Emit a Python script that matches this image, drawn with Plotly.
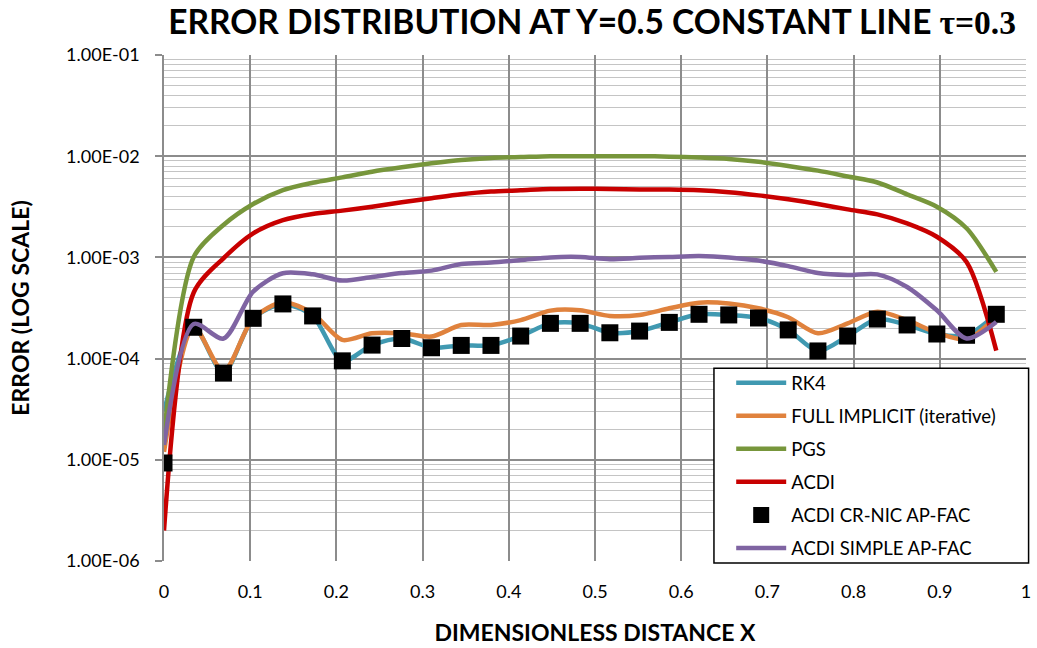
import numpy as np
import plotly.graph_objects as go

# Grid positions along the line (29 nodes)
x_nodes = [i / 29 for i in range(29)]

rk4 = [3.0e-5, 2.04e-4, 7.2e-5, 2.5e-4, 3.45e-4, 2.64e-4, 9.5e-5, 1.36e-4, 1.58e-4, 1.28e-4,
       1.35e-4, 1.35e-4, 1.67e-4, 2.23e-4, 2.23e-4, 1.80e-4, 1.87e-4, 2.28e-4, 2.74e-4, 2.70e-4,
       2.52e-4, 1.92e-4, 1.19e-4, 1.67e-4, 2.46e-4, 2.15e-4, 1.75e-4, 1.70e-4, 2.74e-4]

full_implicit = [1.2e-5, 2.04e-4, 7.5e-5, 2.5e-4, 3.6e-4, 2.8e-4, 1.53e-4, 1.78e-4, 1.78e-4, 1.65e-4,
                 2.15e-4, 2.15e-4, 2.4e-4, 2.98e-4, 3.0e-4, 2.64e-4, 2.7e-4, 3.14e-4, 3.57e-4, 3.5e-4,
                 3.14e-4, 2.56e-4, 1.78e-4, 2.23e-4, 2.91e-4, 2.4e-4, 1.8e-4, 1.55e-4, 2.6e-4]

pgs = [1.8e-5, 1.01e-3, 2.09e-3, 3.37e-3, 4.63e-3, 5.47e-3, 6.18e-3, 7.03e-3, 7.77e-3, 8.5e-3,
       9.16e-3, 9.6e-3, 9.8e-3, 1.0e-2, 1.0e-2, 1.0e-2, 1.0e-2, 9.9e-3, 9.7e-3, 9.4e-3,
       8.8e-3, 8.0e-3, 7.2e-3, 6.3e-3, 5.5e-3, 4.2e-3, 3.17e-3, 1.94e-3, 7.2e-4]

acdi = [2.0e-6, 4.5e-4, 9.8e-4, 1.73e-3, 2.34e-3, 2.69e-3, 2.9e-3, 3.17e-3, 3.5e-3, 3.84e-3,
        4.2e-3, 4.47e-3, 4.6e-3, 4.74e-3, 4.77e-3, 4.74e-3, 4.7e-3, 4.68e-3, 4.6e-3, 4.4e-3,
        4.1e-3, 3.75e-3, 3.37e-3, 2.98e-3, 2.66e-3, 2.17e-3, 1.6e-3, 9.0e-4, 1.2e-4]

crnic_apfac = [9.3e-6, 2.04e-4, 7.2e-5, 2.5e-4, 3.47e-4, 2.64e-4, 9.5e-5, 1.36e-4, 1.58e-4, 1.28e-4,
               1.35e-4, 1.35e-4, 1.67e-4, 2.23e-4, 2.23e-4, 1.80e-4, 1.87e-4, 2.28e-4, 2.74e-4, 2.70e-4,
               2.52e-4, 1.92e-4, 1.19e-4, 1.67e-4, 2.46e-4, 2.15e-4, 1.75e-4, 1.70e-4, 2.74e-4]

simple_apfac = [1.4e-5, 2.2e-4, 1.58e-4, 4.6e-4, 6.97e-4, 6.8e-4, 5.9e-4, 6.4e-4, 7.0e-4, 7.4e-4,
                8.6e-4, 8.9e-4, 9.4e-4, 1.0e-3, 1.01e-3, 9.6e-4, 9.9e-4, 1.01e-3, 1.03e-3, 1.0e-3,
                9.3e-4, 8.2e-4, 7.0e-4, 6.7e-4, 6.8e-4, 5.1e-4, 3.0e-4, 1.58e-4, 2.3e-4]

y_tick_vals = [1e-6, 1e-5, 1e-4, 1e-3, 1e-2, 1e-1]
y_tick_text = ["1.00E-06", "1.00E-05", "1.00E-04", "1.00E-03", "1.00E-02", "1.00E-01"]
x_tick_vals = [0, 0.1, 0.2, 0.3, 0.4, 0.5, 0.6, 0.7, 0.8, 0.9, 1]
x_tick_text = ["0", "0.1", "0.2", "0.3", "0.4", "0.5", "0.6", "0.7", "0.8", "0.9", "1"]

FONT = "Lato, Open Sans, sans-serif"
LW = 4.5

fig = go.Figure()

def add_line(y, name, color):
    fig.add_trace(go.Scatter(
        x=x_nodes, y=y, name=name, mode="lines", legendgroup=name,
        line=dict(color=color, width=LW, shape="spline", smoothing=0.8)))

add_line(rk4, "RK4", "#4099B1")
add_line(full_implicit, "FULL IMPLICIT (iterative)", "#E0823D")
add_line(pgs, "PGS", "#77963B")
add_line(acdi, "ACDI", "#C80000")
fig.add_trace(go.Scatter(
    x=x_nodes, y=crnic_apfac, name="ACDI CR-NIC AP-FAC", mode="markers",
    legendgroup="crnic", marker=dict(symbol="square", size=17, color="black")))
add_line(simple_apfac, "ACDI SIMPLE AP-FAC", "#7F64A2")

minor_vals = [k * 10.0 ** d for d in range(-6, -1) for k in range(2, 10)]

# legend frame drawn as a paper-anchored box so its size is fixed
fig.add_shape(type="rect", xref="paper", yref="paper",
              x0=0.638, x1=1.003, y0=-0.004, y1=0.381,
              fillcolor="white", line=dict(color="black", width=1.5), layer="above")

fig.update_layout(
    width=1037, height=648,
    margin=dict(l=164, r=11, t=55, b=87, autoexpand=False),
    paper_bgcolor="white", plot_bgcolor="white",
    font=dict(family=FONT, color="black"),
    title=dict(
        text="<b>ERROR DISTRIBUTION AT Y=0.5 CONSTANT LINE "
             "<span style='font-family:Liberation Serif, DejaVu Serif, serif'>τ=0.3</span></b>",
        x=0.571, xanchor="center", y=0.966, yanchor="middle",
        font=dict(size=33.5, family=FONT, color="black")),
    xaxis=dict(
        range=[0, 1], tickvals=x_tick_vals, ticktext=x_tick_text,
        showgrid=True, gridcolor="#8c8c8c", gridwidth=1.5,
        zeroline=False, showline=False, ticks="", ticklabelstandoff=18,
        tickfont=dict(size=18, family=FONT),
        title=dict(text="<b>DIMENSIONLESS DISTANCE X</b>", font=dict(size=23, family=FONT), standoff=23)),
    yaxis=dict(
        type="log", range=[-6, -1], tickvals=y_tick_vals, ticktext=y_tick_text,
        showgrid=True, gridcolor="#8c8c8c", gridwidth=1.5,
        minor=dict(tickvals=minor_vals, showgrid=True, gridcolor="#c4c4c4", gridwidth=1.3, ticks=""),
        zeroline=False, showline=True, linecolor="#8c8c8c", linewidth=1.5,
        ticks="outside", ticklen=7, tickcolor="#8c8c8c", tickwidth=1.5, ticklabelstandoff=12,
        tickfont=dict(size=18, family=FONT),
        title=dict(text="<b>ERROR (LOG SCALE)</b>", font=dict(size=23, family=FONT), standoff=30)),
    legend=dict(
        x=0.658, y=0.389, xanchor="left", yanchor="top",
        bgcolor="rgba(0,0,0,0)", borderwidth=0,
        font=dict(size=18.5, family=FONT),
        traceorder="grouped", tracegroupgap=6, itemwidth=50),
    showlegend=True,
)

fig.write_html("out.html")
